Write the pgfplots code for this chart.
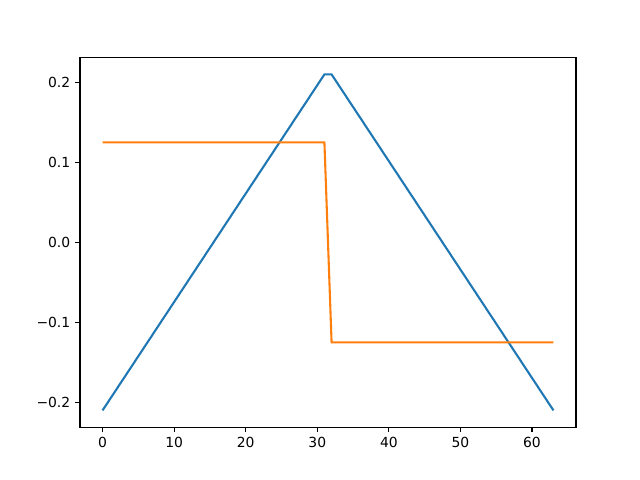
\documentclass[border=0pt]{standalone}
\usepackage{fontspec}
\setmainfont{DejaVu Sans}
\usepackage{pgfplots}
\pgfplotsset{compat=1.18}
\definecolor{mplblue}{HTML}{1F77B4}
\definecolor{mplorange}{HTML}{FF7F0E}
\begin{document}
\begin{tikzpicture}[x=1pt,y=1pt]
% figure 640x480 px at 0.72pt per px
\useasboundingbox (-57.6,-38.016) rectangle (403.2,307.584);
\begin{axis}[
    at={(0,0)}, anchor=south west,
    scale only axis,
    width=357.12pt, height=266.11pt,
    xmin=-3.15, xmax=66.15,
    ymin=-0.231, ymax=0.231,
    xtick={0,10,20,30,40,50,60},
    ytick={-0.2,-0.1,0,0.1,0.2},
    yticklabels={−0.2,−0.1,0.0,0.1,0.2},
    tick align=outside,
    tick pos=left,
    major tick length=3.5pt,
    every tick/.style={black, line width=0.8pt},
    axis line style={line width=0.8pt},
    /pgf/number format/assume math mode=true,
    ticklabel style={font=\fontsize{10}{12}\selectfont},
]
\addplot[mplblue, line width=1.5pt] coordinates {(0,-0.21) (31,0.21) (32,0.21) (63,-0.21)};
\addplot[mplorange, line width=1.5pt] coordinates {(0,0.125) (31,0.125) (32,-0.125) (63,-0.125)};
\end{axis}
\end{tikzpicture}
\end{document}
